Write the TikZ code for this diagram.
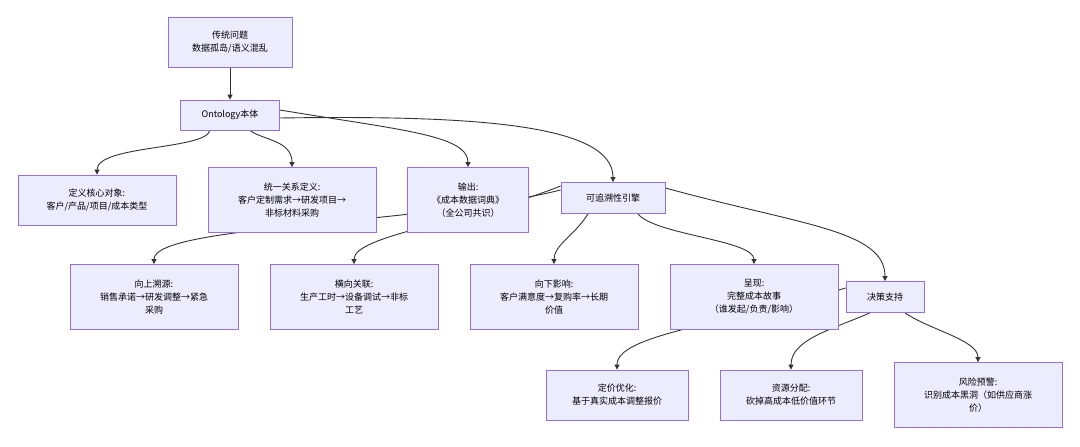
\documentclass[tikz,border=0pt]{standalone}
\usepackage{fontspec}
\setmainfont{Noto Sans CJK SC}
\usetikzlibrary{arrows.meta,backgrounds}
\definecolor{nfill}{HTML}{ECECFF}
\definecolor{nborder}{HTML}{9370DB}
\definecolor{edge}{HTML}{333333}
\begin{document}
\begin{tikzpicture}[x=1pt,y=-1pt,
  box/.style={draw=nborder,fill=nfill,line width=0.8pt,align=center,inner sep=0pt,font=\fontsize{9}{13}\selectfont,text=black},
  arr/.style={draw=edge,line width=0.9pt,-{Triangle[length=5pt,width=5pt]}}]
\node[box,minimum width=124,minimum height=50] (A) at (230,42) {传统问题\\数据孤岛/语义混乱};
\node[box,minimum width=99,minimum height=30] (B) at (230,115) {Ontology本体};
\node[box,minimum width=158,minimum height=50] (C1) at (97,200) {定义核心对象:\\客户/产品/项目/成本类型};
\node[box,minimum width=168,minimum height=65] (C2) at (292,200) {统一关系定义:\\客户定制需求→研发项目→\\非标材料采购};
\node[box,minimum width=121,minimum height=65] (C3) at (468,200) {输出:\\《成本数据词典》\\（全公司共识）};
\node[box,minimum width=104,minimum height=31] (C4) at (613,198) {可追溯性引擎};
\node[box,minimum width=168,minimum height=65] (D1) at (154,297) {向上溯源:\\销售承诺→研发调整→紧急\\采购};
\node[box,minimum width=168,minimum height=65] (D2) at (354,297) {横向关联:\\生产工时→设备调试→非标\\工艺};
\node[box,minimum width=168,minimum height=65] (D3) at (554,297) {向下影响:\\客户满意度→复购率→长期\\价值};
\node[box,minimum width=168,minimum height=65] (D4) at (754,297) {呈现:\\完整成本故事\\（谁发起/负责/影响）};
\node[box,minimum width=78,minimum height=31] (D5) at (885,297) {决策支持};
\node[box,minimum width=142,minimum height=50] (E1) at (617,395) {定价优化:\\基于真实成本调整报价};
\node[box,minimum width=142,minimum height=50] (E2) at (791,395) {资源分配:\\砍掉高成本低价值环节};
\node[box,minimum width=168,minimum height=65] (E3) at (978,395) {风险预警:\\识别成本黑洞（如供应商涨\\价）};
\begin{scope}[on background layer]
\fill[white] (0,0) rectangle (1080,447);
\draw[arr] (A.south) -- (B.north);
\draw[arr] ([xshift=-20]B.south) .. controls (205,150) and (97,145) .. (C1.north);
\draw[arr] ([xshift=20]B.south) .. controls (262,140) and (292,140) .. (C2.north);
\draw[arr] ([yshift=5]B.east) .. controls (400,130) and (468,135) .. (C3.north);
\draw[arr] ([yshift=-3]B.east) .. controls (480,115) and (613,125) .. (C4.north);
\draw[arr] ([yshift=8]C4.west) .. controls (420,225) and (154,225) .. (D1.north);
\draw[arr] ([yshift=12]C4.west) .. controls (470,222) and (354,235) .. (D2.north);
\draw[arr] ([xshift=-25]C4.south) .. controls (575,235) and (554,245) .. (D3.north);
\draw[arr] ([xshift=25]C4.south) .. controls (655,235) and (754,240) .. (D4.north);
\draw[arr] ([yshift=10]C4.east) .. controls (800,225) and (885,230) .. (D5.north);
\draw[arr] ([yshift=9]D5.west) .. controls (720,325) and (617,335) .. (E1.north);
\draw[arr] ([xshift=-15]D5.south) .. controls (830,330) and (791,340) .. (E2.north);
\draw[arr] ([xshift=20]D5.south) .. controls (930,330) and (978,340) .. (E3.north);
\end{scope}
\useasboundingbox (0,0) rectangle (1080,447);
\end{tikzpicture}
\end{document}
